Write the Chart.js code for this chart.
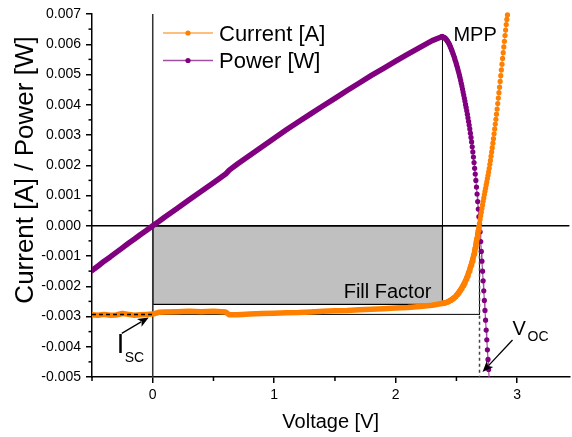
<!DOCTYPE html>
<html>
<head>
<meta charset="utf-8">
<title>Solar cell I-V curve</title>
<script src="https://cdn.jsdelivr.net/npm/chart.js@4.4.0/dist/chart.umd.min.js"></script>
<style>
  html, body { margin: 0; padding: 0; background: #fff; }
  #wrap { width: 572px; height: 437px; position: relative; }
</style>
</head>
<body>
<div id="wrap"><canvas id="ivChart"></canvas></div>
<script>
// sweep: coarse where the trace is a solid band, 5 mV where dots show
var voltage = [
  -0.5, -0.45, -0.4, -0.35, -0.3, -0.25, -0.2, -0.15, -0.1, -0.05,
  0, 0.05, 0.1, 0.2, 0.3, 0.4, 0.5, 0.6, 0.63, 0.7,
  0.8, 0.9, 1, 1.1, 1.2, 1.3, 1.4, 1.5, 1.6, 1.7,
  1.8, 1.9, 2, 2.1, 2.2, 2.3,
  2.38, 2.385, 2.39, 2.395, 2.4, 2.405, 2.41, 2.415, 2.42, 2.425,
  2.43, 2.435, 2.44, 2.445, 2.45, 2.455, 2.46, 2.465, 2.47, 2.475,
  2.48, 2.485, 2.49, 2.495, 2.5, 2.505, 2.51, 2.515, 2.52, 2.525,
  2.53, 2.535, 2.54, 2.545, 2.55, 2.555, 2.56, 2.565, 2.57, 2.575,
  2.58, 2.585, 2.59, 2.595, 2.6, 2.605, 2.61, 2.615, 2.62, 2.625,
  2.63, 2.635, 2.64, 2.645, 2.65, 2.655, 2.66, 2.665, 2.67, 2.675,
  2.68, 2.685, 2.69, 2.695, 2.7, 2.705, 2.71, 2.715, 2.72, 2.725,
  2.73, 2.735, 2.74, 2.745, 2.75, 2.755, 2.76, 2.765, 2.77, 2.775,
  2.78, 2.785, 2.79, 2.795, 2.8, 2.805, 2.81, 2.815, 2.82, 2.825,
  2.83, 2.835, 2.84, 2.845, 2.85, 2.855, 2.86, 2.865, 2.87, 2.875,
  2.88, 2.885, 2.89, 2.895, 2.9, 2.905, 2.91, 2.915, 2.92
];

var current = [
  -0.00294, -0.00296, -0.00293, -0.00296, -0.00295, -0.00290, -0.00293, -0.00296, -0.00294, -0.00293,
  -0.00292, -0.00286, -0.00285, -0.00284, -0.00283, -0.00284, -0.00283, -0.00285, -0.00294, -0.00294,
  -0.00292, -0.00290, -0.00289, -0.00288, -0.00287, -0.00285, -0.00283, -0.00281, -0.00280, -0.00278,
  -0.00276, -0.00274, -0.00272, -0.00270, -0.00267, -0.00263,
  -0.00257, -0.00257, -0.00256, -0.00256, -0.00255, -0.00255, -0.00254, -0.00254, -0.00253, -0.00252,
  -0.00251, -0.00250, -0.00249, -0.00248, -0.00247, -0.00246, -0.00244, -0.00243, -0.00241, -0.00240,
  -0.00238, -0.00237, -0.00235, -0.00233, -0.00230, -0.00228, -0.00225, -0.00223, -0.00220, -0.00217,
  -0.00214, -0.00211, -0.00208, -0.00205, -0.00201, -0.00198, -0.00194, -0.00190, -0.00186, -0.00182,
  -0.00177, -0.00172, -0.00167, -0.00162, -0.00156, -0.00150, -0.00144, -0.00138, -0.00131, -0.00124,
  -0.00117, -0.00110, -0.00102, -0.00093, -0.00083, -0.00073, -0.00062, -0.00051, -0.00040, -0.00028,
  -0.00016, -0.00004, 0.00008, 0.00021, 0.00033, 0.00045, 0.00057, 0.00069, 0.00081, 0.00092,
  0.00103, 0.00114, 0.00124, 0.00135, 0.00145, 0.00156, 0.00167, 0.00178, 0.00190, 0.00203,
  0.00216, 0.00230, 0.00244, 0.00258, 0.00273, 0.00288, 0.00304, 0.00320, 0.00336, 0.00352,
  0.00369, 0.00386, 0.00404, 0.00422, 0.00440, 0.00458, 0.00477, 0.00496, 0.00515, 0.00534,
  0.00553, 0.00572, 0.00591, 0.00610, 0.00629, 0.00647, 0.00665, 0.00682, 0.00697
];

var power = [
  -0.00148, -0.00133, -0.00117, -0.00103, -0.00088, -0.00073, -0.00058, -0.00044, -0.00029, -0.00015,
  0, 0.00014, 0.00029, 0.00057, 0.00086, 0.00114, 0.00142, 0.00171, 0.00184, 0.00205,
  0.00233, 0.00261, 0.00289, 0.00317, 0.00344, 0.00370, 0.00396, 0.00421, 0.00447, 0.00472,
  0.00497, 0.00520, 0.00544, 0.00567, 0.00590, 0.00612,
  0.00625, 0.00625, 0.00624, 0.00623, 0.00622, 0.00621, 0.00619, 0.00617, 0.00614, 0.00611,
  0.00608, 0.00605, 0.00601, 0.00597, 0.00592, 0.00587, 0.00582, 0.00577, 0.00571, 0.00566,
  0.00560, 0.00554, 0.00547, 0.00541, 0.00534, 0.00527, 0.00520, 0.00512, 0.00505, 0.00497,
  0.00489, 0.00480, 0.00471, 0.00462, 0.00452, 0.00442, 0.00432, 0.00422, 0.00412, 0.00401,
  0.00391, 0.00380, 0.00369, 0.00357, 0.00345, 0.00333, 0.00320, 0.00306, 0.00292, 0.00277,
  0.00261, 0.00244, 0.00227, 0.00209, 0.00190, 0.00171, 0.00150, 0.00128, 0.00105, 0.00080,
  0.00055, 0.00030, 0.00006, -0.00020, -0.00052, -0.00085, -0.00117, -0.00150, -0.00182, -0.00215,
  -0.00247, -0.00280, -0.00312, -0.00345, -0.00377, -0.00410, -0.00442, -0.00475, -0.00507, null,
  null, null, null, null, null, null, null, null, null, null,
  null, null, null, null, null, null, null, null, null, null,
  null, null, null, null, null, null, null, null, null
];

var xTickValues = [0, 1, 2, 3];
var xMinorValues = [-0.5, 0.5, 1.5, 2.5];
var yTickValues = [-0.005, -0.004, -0.003, -0.002, -0.001, 0, 0.001, 0.002, 0.003, 0.004, 0.005, 0.006, 0.007];

// characteristic points
var iscCurrent = -0.00293;
var vocVoltage = 2.69;
var mppVoltage = 2.385;
var mppPower = 0.00625;
var mppCurrent = -0.0026;

var ORANGE = '#ff8000', ORANGE_THIN = '#ffa850';
var PURPLE = '#800080', PURPLE_THIN = '#a050a0';
var FONT = "'Liberation Sans', Arial, sans-serif";
var dotsFrom = 2.38;

Chart.defaults.font.family = FONT;
Chart.defaults.color = '#000';

function toPoints(values) {
  return voltage.map(function (v, i) { return { x: v, y: values[i] }; });
}

function traceStyle(color, thinColor, bandUntil) {
  return {
    borderColor: color,
    backgroundColor: color,
    borderWidth: 1.2,
    borderJoinStyle: 'round',
    borderCapStyle: 'round',
    pointRadius: function (c) { return voltage[c.dataIndex] >= dotsFrom ? 2.6 : 0; },
    pointBackgroundColor: color,
    pointBorderWidth: 0,
    pointHoverRadius: 0,
    tension: 0,
    spanGaps: false,
    clip: { left: 0, top: 6, right: 0, bottom: 0 },
    segment: {
      borderWidth: function (c) { return voltage[c.p0DataIndex] < bandUntil ? 5.5 : 1.2; },
      borderColor: function (c) { return voltage[c.p0DataIndex] < bandUntil ? color : thinColor; }
    }
  };
}

function arrow(ctx, fx, fy, tx, ty) {
  var a = Math.atan2(ty - fy, tx - fx), len = 11, half = 4.5;
  var c = Math.cos(a), s = Math.sin(a);
  ctx.beginPath();
  ctx.moveTo(fx, fy);
  ctx.lineTo(tx - c * len * 0.8, ty - s * len * 0.8);
  ctx.stroke();
  ctx.beginPath();
  ctx.moveTo(tx, ty);
  ctx.lineTo(tx - c * len + s * half, ty - s * len - c * half);
  ctx.lineTo(tx - c * len * 0.75, ty - s * len * 0.75);
  ctx.lineTo(tx - c * len - s * half, ty - s * len + c * half);
  ctx.closePath();
  ctx.fill();
}

var markup = {
  id: 'markup',
  beforeDatasetsDraw: function (chart) {
    var ctx = chart.ctx, xs = chart.scales.x, ys = chart.scales.y, area = chart.chartArea;
    var x0 = xs.getPixelForValue(0), xm = xs.getPixelForValue(mppVoltage), xv = xs.getPixelForValue(vocVoltage);
    var y0 = ys.getPixelForValue(0), ym = ys.getPixelForValue(mppCurrent), yi = ys.getPixelForValue(iscCurrent);
    var yp = ys.getPixelForValue(mppPower);
    ctx.save();
    // fill factor box
    ctx.fillStyle = '#c0c0c0';
    ctx.fillRect(x0, y0, xm - x0, ym - y0);
    ctx.strokeStyle = '#000';
    ctx.lineWidth = 1.2;
    ctx.strokeRect(x0, y0, xm - x0, ym - y0);
    // Isc x Voc rectangle
    ctx.lineWidth = 1;
    ctx.strokeRect(x0, y0, xv - x0, yi - y0);
    // axes through origin
    ctx.lineWidth = 1.3;
    ctx.beginPath();
    ctx.moveTo(area.left, y0); ctx.lineTo(area.right, y0);
    ctx.stroke();
    ctx.strokeStyle = '#333';
    ctx.lineWidth = 1.5;
    ctx.beginPath();
    ctx.moveTo(x0, area.top); ctx.lineTo(x0, area.bottom);
    ctx.stroke();
    // MPP drop line
    ctx.strokeStyle = '#000';
    ctx.lineWidth = 1;
    ctx.beginPath();
    ctx.moveTo(xm, yp); ctx.lineTo(xm, y0);
    ctx.stroke();
    // Voc dashed line
    ctx.strokeStyle = '#444';
    ctx.lineWidth = 1.5;
    ctx.setLineDash([3, 3]);
    ctx.beginPath();
    ctx.moveTo(xv, y0); ctx.lineTo(xv, area.bottom);
    ctx.stroke();
    ctx.restore();
  },
  afterDatasetsDraw: function (chart) {
    var ctx = chart.ctx, xs = chart.scales.x, ys = chart.scales.y, area = chart.chartArea;
    var x0 = xs.getPixelForValue(0), yi = ys.getPixelForValue(iscCurrent);
    ctx.save();
    ctx.strokeStyle = '#000';
    ctx.lineWidth = 1.5;
    ctx.setLineDash([4, 3]);
    ctx.beginPath();
    ctx.moveTo(area.left, yi); ctx.lineTo(x0, yi);
    ctx.stroke();
    ctx.restore();
  },
  afterDraw: function (chart) {
    var ctx = chart.ctx, xs = chart.scales.x, ys = chart.scales.y, area = chart.chartArea;
    var x0 = xs.getPixelForValue(0), xm = xs.getPixelForValue(mppVoltage), xv = xs.getPixelForValue(vocVoltage);
    var ym = ys.getPixelForValue(mppCurrent), yi = ys.getPixelForValue(iscCurrent);
    var yp = ys.getPixelForValue(mppPower);
    ctx.save();
    ctx.strokeStyle = '#000';
    ctx.fillStyle = '#000';
    ctx.lineWidth = 1.5;

    // minor ticks
    xMinorValues.forEach(function (v) {
      var px = xs.getPixelForValue(v);
      ctx.beginPath(); ctx.moveTo(px, area.bottom); ctx.lineTo(px, area.bottom + 4); ctx.stroke();
    });
    for (var i = 0; i < yTickValues.length - 1; i++) {
      var py = ys.getPixelForValue((yTickValues[i] + yTickValues[i + 1]) / 2);
      ctx.beginPath(); ctx.moveTo(area.left, py); ctx.lineTo(area.left - 3.5, py); ctx.stroke();
    }

    // arrows
    ctx.lineWidth = 1.3;
    arrow(ctx, x0 - 31, yi + 19, x0 - 4, yi + 3);
    arrow(ctx, xv + 33, area.bottom - 37, xv + 3, area.bottom - 5);

    // labels
    ctx.textBaseline = 'alphabetic';
    ctx.textAlign = 'left';
    ctx.font = '20px ' + FONT;
    ctx.fillText('MPP', xm + 11, yp + 4);
    ctx.textAlign = 'right';
    ctx.fillText('Fill Factor', xm - 11, ym - 6);
    ctx.textAlign = 'left';
    ctx.font = '27px ' + FONT;
    ctx.fillText('I', x0 - 36, yi + 39);
    ctx.font = '14px ' + FONT;
    ctx.fillText('SC', x0 - 28, yi + 48);
    ctx.font = '20px ' + FONT;
    ctx.fillText('V', xv + 33, area.bottom - 42);
    ctx.font = '14px ' + FONT;
    ctx.fillText('OC', xv + 48, area.bottom - 36);

    // legend
    chart.data.datasets.forEach(function (ds, k) {
      var ly = 33 + k * 27.5;
      ctx.strokeStyle = ds.legendLine;
      ctx.lineWidth = 1.5;
      ctx.beginPath(); ctx.moveTo(163, ly); ctx.lineTo(213, ly); ctx.stroke();
      ctx.fillStyle = ds.borderColor;
      ctx.beginPath(); ctx.arc(188, ly, 2.6, 0, Math.PI * 2); ctx.fill();
      ctx.fillStyle = '#000';
      ctx.font = '22px ' + FONT;
      ctx.fillText(ds.label, 219, ly + 7.5);
    });

    // y axis title
    ctx.translate(33, 170);
    ctx.rotate(-Math.PI / 2);
    ctx.textAlign = 'center';
    ctx.font = '26px ' + FONT;
    ctx.fillText('Current [A] / Power [W]', 0, 0);
    ctx.restore();
  }
};

var currentSet = Object.assign({ label: 'Current [A]', data: toPoints(current), legendLine: ORANGE_THIN },
  traceStyle(ORANGE, ORANGE_THIN, 2.685));
var powerSet = Object.assign({ label: 'Power [W]', data: toPoints(power), legendLine: PURPLE_THIN },
  traceStyle(PURPLE, PURPLE_THIN, 2.38));

new Chart(document.getElementById('ivChart'), {
  type: 'line',
  data: { datasets: [currentSet, powerSet] },
  options: {
    responsive: true,
    maintainAspectRatio: false,
    animation: false,
    events: [],
    layout: { padding: { top: 14, right: 0, bottom: 0, left: 0 } },
    plugins: { legend: { display: false }, tooltip: { enabled: false } },
    scales: {
      x: {
        type: 'linear',
        min: -0.5,
        max: 3.43,
        afterBuildTicks: function (s) { s.ticks = xTickValues.map(function (v) { return { value: v }; }); },
        afterFit: function (s) { s.height = 60; },
        border: { display: true, color: '#000', width: 1.5 },
        grid: { drawOnChartArea: false, drawTicks: true, tickLength: 6, color: '#000', lineWidth: 1.5 },
        ticks: { autoSkip: false, maxRotation: 0, padding: 4, font: { size: 14 }, color: '#000',
          callback: function (v) { return String(v); } },
        title: { display: true, text: 'Voltage [V]', font: { size: 20 }, color: '#000', padding: { top: 0, bottom: 3 } }
      },
      y: {
        type: 'linear',
        min: -0.005,
        max: 0.007,
        afterBuildTicks: function (s) { s.ticks = yTickValues.map(function (v) { return { value: v }; }); },
        afterFit: function (s) { s.width = 92; },
        border: { display: true, color: '#000', width: 1.5 },
        grid: { drawOnChartArea: false, drawTicks: true, tickLength: 6, color: '#000', lineWidth: 1.5 },
        ticks: { autoSkip: false, padding: 5, font: { size: 14 }, color: '#000',
          callback: function (v) { return v.toFixed(3); } }
      }
    }
  },
  plugins: [markup]
});
</script>
</body>
</html>
